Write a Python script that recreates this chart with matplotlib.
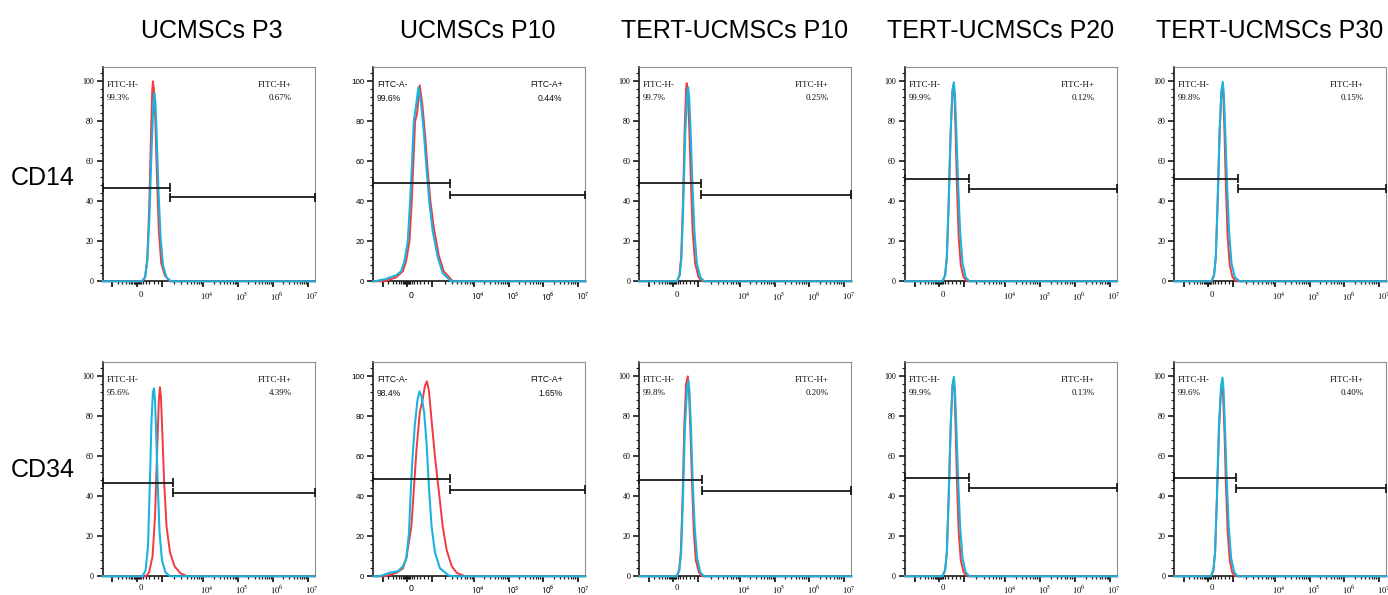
import matplotlib
matplotlib.use("Agg")
import matplotlib.pyplot as plt
from matplotlib.ticker import MultipleLocator, FixedLocator
from matplotlib.transforms import ScaledTranslation
import numpy as np

# ---------------- data ----------------
COLUMNS = ['UCMSCs P3', 'UCMSCs P10', 'TERT-UCMSCs P10', 'TERT-UCMSCs P20', 'TERT-UCMSCs P30']
MARKERS = ['CD14', 'CD34']
CHANNEL = ['FITC-H', 'FITC-A', 'FITC-H', 'FITC-H', 'FITC-H']

NEG_PCT = [['99.3%', '99.6%', '99.7%', '99.9%', '99.8%'],
           ['95.6%', '98.4%', '99.8%', '99.9%', '99.6%']]
POS_PCT = [['0.67%', '0.44%', '0.25%', '0.12%', '0.15%'],
           ['4.39%', '1.65%', '0.20%', '0.13%', '0.40%']]

# gate boundary (axis decade units) and gate heights (% of max)
GATE_X = [[3.05, 3.33, 2.90, 2.96, 2.94],
          [3.14, 3.32, 2.92, 2.96, 2.88]]
GATE_NEG_Y = [[46.7, 49.0, 49.0, 51.2, 51.2],
              [46.8, 48.8, 48.3, 49.3, 49.3]]
GATE_POS_Y = [[42.0, 43.2, 43.3, 46.2, 46.2],
              [41.8, 43.3, 42.7, 44.2, 44.0]]

# histogram traces: isotype/control (red) and sample (cyan)
RED_X = [
    [[2.26, 2.34, 2.40, 2.45, 2.50, 2.54, 2.56, 2.59, 2.63, 2.68, 2.73, 2.80, 2.90, 3.05],
     [1.44, 1.775, 1.966, 2.061, 2.157, 2.223, 2.271, 2.319, 2.376, 2.453, 2.529, 2.606, 2.682, 2.758, 2.854, 2.997, 3.14, 3.398],
     [2.20, 2.27, 2.32, 2.37, 2.42, 2.46, 2.48, 2.51, 2.55, 2.60, 2.65, 2.72, 2.82, 2.92],
     [2.20, 2.27, 2.32, 2.37, 2.43, 2.48, 2.51, 2.54, 2.57, 2.61, 2.66, 2.72, 2.80, 2.90],
     [2.19, 2.26, 2.31, 2.36, 2.42, 2.47, 2.50, 2.53, 2.56, 2.60, 2.65, 2.71, 2.79, 2.89]],
    [[2.36, 2.45, 2.55, 2.62, 2.68, 2.73, 2.76, 2.79, 2.83, 2.88, 2.95, 3.05, 3.18, 3.35, 3.55],
     [1.44, 1.777, 1.97, 2.067, 2.212, 2.289, 2.357, 2.453, 2.53, 2.598, 2.656, 2.714, 2.791, 2.887, 3.003, 3.11, 3.225, 3.37, 3.515, 3.756],
     [2.19, 2.26, 2.31, 2.36, 2.41, 2.46, 2.51, 2.54, 2.58, 2.63, 2.68, 2.74, 2.83, 2.92],
     [2.20, 2.27, 2.32, 2.37, 2.43, 2.48, 2.51, 2.54, 2.57, 2.61, 2.66, 2.72, 2.80, 2.90],
     [2.17, 2.24, 2.29, 2.34, 2.40, 2.45, 2.49, 2.52, 2.56, 2.60, 2.65, 2.71, 2.78, 2.86]],
]
RED_Y = [
    [[0, 2, 12, 35, 70, 95, 100, 96, 80, 50, 25, 9, 3, 0],
     [0, 2, 5, 10, 20, 40, 60, 80, 84, 98, 88, 73, 55, 40, 27, 13, 5, 0],
     [0, 3, 12, 38, 75, 96, 99, 94, 78, 50, 25, 9, 2, 0],
     [0, 3, 12, 38, 75, 95, 98, 92, 75, 48, 22, 8, 2, 0],
     [0, 3, 12, 38, 75, 94, 97, 91, 74, 47, 22, 8, 2, 0]],
    [[0, 2, 10, 30, 62, 88, 94.5, 90, 72, 48, 25, 12, 5, 1.5, 0],
     [0, 1.7, 4, 9, 25, 45, 63, 82, 88, 95, 97.5, 93, 78, 60, 42, 25, 13, 5, 1.7, 0],
     [0, 3, 12, 38, 75, 96, 100, 94, 76, 48, 23, 8, 2, 0],
     [0, 3, 12, 38, 75, 95, 98, 92, 75, 48, 22, 8, 2, 0],
     [0, 3, 12, 38, 72, 90, 94, 90, 72, 46, 22, 8, 2, 0]],
]
CYAN_X = [
    [[2.24, 2.33, 2.40, 2.46, 2.52, 2.57, 2.60, 2.63, 2.67, 2.72, 2.78, 2.85, 2.95, 3.08],
     [1.154, 1.44, 1.775, 1.918, 2.013, 2.109, 2.176, 2.233, 2.281, 2.348, 2.414, 2.491, 2.567, 2.653, 2.730, 2.825, 2.969, 3.112, 3.351],
     [2.20, 2.28, 2.33, 2.38, 2.44, 2.49, 2.52, 2.55, 2.59, 2.64, 2.70, 2.77, 2.87, 2.98],
     [2.19, 2.27, 2.32, 2.37, 2.43, 2.48, 2.52, 2.55, 2.59, 2.64, 2.70, 2.77, 2.86, 2.97],
     [2.18, 2.26, 2.31, 2.36, 2.42, 2.47, 2.51, 2.54, 2.58, 2.63, 2.69, 2.76, 2.86, 2.99]],
    [[2.26, 2.35, 2.42, 2.47, 2.52, 2.56, 2.59, 2.62, 2.66, 2.70, 2.75, 2.82, 2.92, 3.05],
     [1.295, 1.633, 1.826, 1.97, 2.067, 2.144, 2.192, 2.241, 2.308, 2.386, 2.443, 2.501, 2.579, 2.646, 2.714, 2.791, 2.887, 3.032, 3.274, 3.418],
     [2.19, 2.27, 2.32, 2.37, 2.43, 2.49, 2.53, 2.56, 2.60, 2.65, 2.71, 2.78, 2.87, 2.98],
     [2.19, 2.27, 2.32, 2.37, 2.43, 2.48, 2.52, 2.55, 2.59, 2.64, 2.70, 2.77, 2.86, 2.97],
     [2.17, 2.24, 2.29, 2.34, 2.40, 2.46, 2.50, 2.53, 2.57, 2.62, 2.68, 2.75, 2.84, 2.94]],
]
CYAN_Y = [
    [[0, 2, 10, 32, 65, 88, 94, 90, 72, 45, 22, 8, 2, 0],
     [0, 1, 3, 5, 10, 20, 40, 60, 80, 88, 97, 89, 75, 55, 39, 25, 12, 4, 0],
     [0, 3, 12, 38, 75, 93, 97, 92, 76, 50, 25, 9, 2, 0],
     [0, 3, 12, 38, 75, 95, 99.5, 94, 76, 50, 25, 9, 2, 0],
     [0, 3, 12, 38, 75, 95, 99.7, 94, 76, 50, 25, 9, 2, 0]],
    [[0, 3, 15, 45, 78, 92, 94, 88, 68, 45, 22, 8, 2, 0],
     [0, 2, 2.5, 5, 9, 22, 42, 58, 75, 88, 92.5, 90, 82, 67, 45, 25, 12, 4, 0.5, 0],
     [0, 3, 12, 38, 75, 94, 97.7, 92, 75, 48, 24, 9, 2, 0],
     [0, 3, 12, 38, 75, 95, 99.7, 94, 76, 50, 25, 9, 2, 0],
     [0, 3, 12, 38, 75, 95, 99.3, 94, 76, 50, 25, 9, 2, 0]],
]

X_TICKS = [1.40, 2.095, 2.81, 4.0, 5.0, 6.0, 7.0]
X_TICK_LABELS = ['', '0', '', r'$10^4$', r'$10^5$', r'$10^6$', r'$10^7$']
Y_TICKS = [0, 20, 40, 60, 80, 100]

# ---------------- layout ----------------
W, H = 1388, 595
XLIM = (1.12, 7.20)
YLIM = (0, 107)
COL_LEFT = [102.7, 373.3, 639.3, 905.0, 1174.3]
ROW_Y0 = [281.3, 576.3]
ROW_XPAD = [3.0, 1.8]
AX_W, AX_H = 212.0, 214.0
TITLE_CX = [211.5, 478.0, 734.5, 1001.0, 1270.0]
TITLE_BASE = 37.7
ROW_LABEL_BASE = [185.0, 477.0]

RED = '#F2393F'
CYAN = '#19B4DE'
DARK = '#1a1a1a'

# minor ticks on the bi-exponential axis
minor = [1.55, 1.68, 1.78, 1.86, 1.92, 1.97, 2.01, 2.04, 2.06, 2.08,
         2.11, 2.13, 2.15, 2.18, 2.22, 2.28, 2.36, 2.46, 2.58, 2.70]
for a, b in [(2.81, 4.0), (4.0, 5.0), (5.0, 6.0), (6.0, 7.0)]:
    for k in range(2, 10):
        minor.append(a + (b - a) * np.log10(k))

fig = plt.figure(figsize=(W / 100, H / 100), dpi=100)

for r in range(2):
    for c in range(5):
        sans = CHANNEL[c] == 'FITC-A'
        fam = 'Liberation Sans' if sans else 'Liberation Serif'
        mathfam = 'stixsans' if sans else 'stix'
        ax = fig.add_axes([COL_LEFT[c] / W, (H - ROW_Y0[r]) / H, AX_W / W, AX_H / H])
        ax.set_xlim(*XLIM)
        ax.set_ylim(*YLIM)

        # traces with baseline across whole axis
        rx = [XLIM[0]] + RED_X[r][c] + [XLIM[1]]
        ry = [0] + RED_Y[r][c] + [0]
        cx = [XLIM[0]] + CYAN_X[r][c] + [XLIM[1]]
        cy = [0] + CYAN_Y[r][c] + [0]
        ax.plot(rx, ry, color=RED, lw=1.4, zorder=3, clip_on=False, solid_joinstyle='round')
        ax.plot(cx, cy, color=CYAN, lw=1.5, zorder=4, clip_on=False, solid_joinstyle='round')

        # gates
        gx = GATE_X[r][c]
        yn = GATE_NEG_Y[r][c]
        yp = GATE_POS_Y[r][c]
        cap = 2.2
        ax.plot([XLIM[0], gx], [yn, yn], color=DARK, lw=1.3, zorder=5, clip_on=False)
        ax.plot([gx, XLIM[1]], [yp, yp], color=DARK, lw=1.3, zorder=5, clip_on=False)
        ax.vlines([XLIM[0], gx], yn - cap, yn + cap, color=DARK, lw=1.3, zorder=5, clip_on=False)
        ax.vlines([gx, XLIM[1]], yp - cap, yp + cap, color=DARK, lw=1.3, zorder=5, clip_on=False)

        # annotations
        fs = 6.2 if sans else 6.5
        ax.text(0.018, 98.3, CHANNEL[c] + '-', transform=ax.get_yaxis_transform(),
                ha='left', va='center', fontsize=fs, family=fam, color='#111111')
        ax.text(0.018, 91.6, NEG_PCT[r][c], transform=ax.get_yaxis_transform(),
                ha='left', va='center', fontsize=fs, family=fam, color='#111111')
        ax.text(0.893, 98.3, CHANNEL[c] + '+', transform=ax.get_yaxis_transform(),
                ha='right', va='center', fontsize=fs, family=fam, color='#111111')
        ax.text(0.893, 91.6, POS_PCT[r][c], transform=ax.get_yaxis_transform(),
                ha='right', va='center', fontsize=fs, family=fam, color='#111111')

        # spines
        for s in ['left', 'bottom']:
            ax.spines[s].set_color(DARK)
            ax.spines[s].set_linewidth(1.2)
        for s in ['top', 'right']:
            ax.spines[s].set_color('#8f8f8f')
            ax.spines[s].set_linewidth(0.8)

        # ticks
        ax.set_yticks(Y_TICKS)
        ax.yaxis.set_minor_locator(MultipleLocator(4))
        ax.set_xticks(X_TICKS)
        ax.set_xticklabels(X_TICK_LABELS)
        ax.xaxis.set_minor_locator(FixedLocator(minor))
        ax.tick_params(axis='y', which='major', length=4, width=1.2, pad=2.5,
                       labelsize=5.8, color=DARK)
        ax.tick_params(axis='y', which='minor', length=2, width=0.8, color=DARK)
        ax.tick_params(axis='x', which='major', length=4, width=1.3, pad=ROW_XPAD[r],
                       labelsize=6.3, color=DARK)
        ax.tick_params(axis='x', which='minor', length=2.2, width=0.9, color=DARK)
        for lab in ax.get_yticklabels():
            lab.set_family(fam)
        offset = ScaledTranslation(0.04, 0, fig.dpi_scale_trans)
        for lab in ax.get_xticklabels():
            lab.set_family(fam)
            lab.set_math_fontfamily(mathfam)
            lab.set_transform(lab.get_transform() + offset)

# titles and row labels
for c, name in enumerate(COLUMNS):
    fig.text(TITLE_CX[c] / W, 1 - TITLE_BASE / H, name, ha='center', va='baseline',
             fontsize=18, family='Liberation Sans', color='black')
for r, name in enumerate(MARKERS):
    fig.text(11 / W, 1 - ROW_LABEL_BASE[r] / H, name, ha='left', va='baseline',
             fontsize=18, family='Liberation Sans', color='black')

fig.savefig('out.png', dpi=100, facecolor='white')
